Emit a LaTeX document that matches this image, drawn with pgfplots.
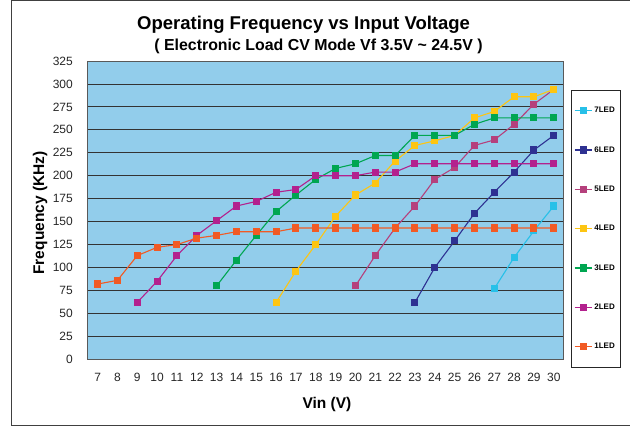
\documentclass[border=0pt]{standalone}
\usepackage{pgfplots}
\pgfplotsset{compat=1.18}
\usepackage{fontspec}
\setmainfont{Liberation Sans}
\definecolor{bgblue}{HTML}{92CDEB}
\definecolor{cA}{HTML}{F15A24}
\definecolor{cB}{HTML}{B3218E}
\definecolor{cC}{HTML}{00A651}
\definecolor{cD}{HTML}{FDC512}
\definecolor{cE}{HTML}{B5407C}
\definecolor{cF}{HTML}{2E3192}
\definecolor{cG}{HTML}{27C0E8}
\begin{document}
\begin{tikzpicture}[x=1pt,y=1pt]
\path[use as bounding box] (0pt,0pt) rectangle (630pt,426pt);
\draw[black!75, line width=0.9pt] (630pt,425.3pt) -- (11pt,425.3pt) -- (11pt,0.8pt) -- (630pt,0.8pt);
\node[font=\bfseries\fontsize{18.5}{20}\selectfont] at (303.6pt,401pt) {Operating Frequency vs Input Voltage};
\node[font=\bfseries\fontsize{15.9}{18}\selectfont] at (318.5pt,380pt) {( Electronic Load CV Mode Vf 3.5V \textasciitilde{} 24.5V )};
\begin{axis}[
  at={(87.7pt,66.7pt)}, anchor=south west,
  scale only axis, width=476pt, height=298.3pt,
  xmin=6.5, xmax=30.5, ymin=0, ymax=325,
  xtick={7,...,30}, ytick={0,25,...,325},
  major tick length=0pt, tick style={draw=none},
  axis background/.style={fill=bgblue},
  axis line style={black!65, line width=0.8pt},
  ymajorgrids, grid style={black!80, line width=0.8pt},
  /pgf/number format/assume math mode=true,
  tick label style={font=\fontsize{12}{14}\selectfont, text=black!85},
  yticklabel style={anchor=east, inner sep=0pt, xshift=-14.7pt},
  xticklabel style={anchor=center, inner sep=0pt, yshift=-18.4pt},
  ylabel={Frequency (KHz)},
  ylabel style={at={(axis description cs:-0.1002,0.4905)}, anchor=center, font=\bfseries\fontsize{15.5}{17}\selectfont},
  xlabel={Vin (V)},
  xlabel style={at={(axis description cs:0.5027,-0.15)}, anchor=center, font=\bfseries\fontsize{15.5}{17}\selectfont},
  legend style={at={(axis description cs:1.0153,0.9028)}, anchor=north west, draw=black!85, fill=white,
    font=\bfseries\fontsize{8}{9}\selectfont, inner ysep=15pt, row sep=28.3pt},
  legend cell align=left,
  every axis plot/.append style={line width=1.1pt, mark=square*, mark size=3pt, mark options={solid}},
]
\addplot[cG] coordinates {(27,77)(28,111)(29,140)(30,167)};
\addplot[cF] coordinates {(23,62)(24,100)(25,129)(26,159)(27,182)(28,204)(29,228)(30,244)};
\addplot[cE] coordinates {(20,80)(21,113)(22,143)(23,167)(24,196)(25,209)(26,233)(27,239)(28,256)(29,278)(30,294)};
\addplot[cD] coordinates {(16,62)(17,96)(18,125)(19,156)(20,179)(21,192)(22,216)(23,233)(24,238)(25,244)(26,263)(27,270)(28,286)(29,286)(30,294)};
\addplot[cC] coordinates {(13,80)(14,108)(15,135)(16,161)(17,179)(18,196)(19,208)(20,213)(21,222)(22,222)(23,244)(24,244)(25,244)(26,256)(27,263)(28,263)(29,263)(30,263)};
\addplot[cB] coordinates {(9,62)(10,85)(11,113)(12,135)(13,151)(14,167)(15,172)(16,182)(17,185)(18,200)(19,200)(20,200)(21,204)(22,204)(23,213)(24,213)(25,213)(26,213)(27,213)(28,213)(29,213)(30,213)};
\addplot[cA] coordinates {(7,82)(8,86)(9,113)(10,122)(11,125)(12,132)(13,135)(14,139)(15,139)(16,139)(17,143)(18,143)(19,143)(20,143)(21,143)(22,143)(23,143)(24,143)(25,143)(26,143)(27,143)(28,143)(29,143)(30,143)};
\legend{7LED,6LED,5LED,4LED,3LED,2LED,1LED}
\end{axis}
\end{tikzpicture}
\end{document}
